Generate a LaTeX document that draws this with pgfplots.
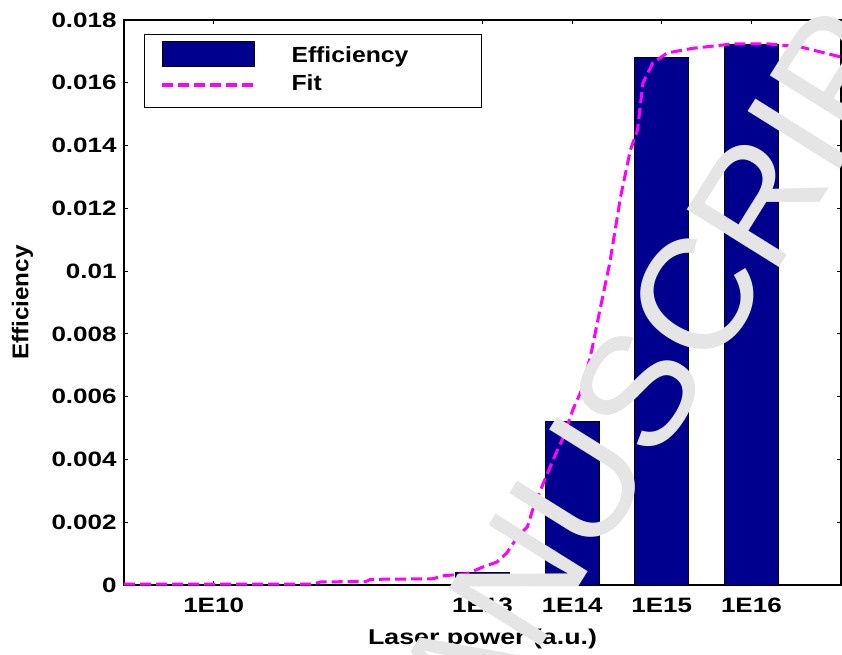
\documentclass[border=0pt]{standalone}
\usepackage{pgfplots}
\pgfplotsset{compat=1.18}
\usepackage{pgfplotstable}
\usepackage{fontspec}
\setmainfont{Liberation Sans}
\newfontfamily\tickfont{Liberation Sans}[FakeStretch=1.25]
\newfontfamily\legfont{Liberation Sans}[FakeStretch=1.13]
\newfontfamily\ylabfont{Liberation Sans}[FakeStretch=1.06]

\definecolor{barblue}{RGB}{0,0,143}
\definecolor{fitmag}{RGB}{255,0,255}
\definecolor{wmgray}{RGB}{229,229,229}

\pgfplotsset{
  barlegend/.style={legend image code/.code={%
    \path (0pt,0pt) -- (46pt,0pt);
    \draw[##1,overlay] (0pt,-4.6pt) rectangle (46pt,7.9pt);}},
  linelegend/.style={legend image code/.code={%
    \path (0pt,0pt) -- (46pt,0pt);
    \draw[##1,overlay] (0pt,-0.25pt) -- (46pt,-0.25pt);}},
}

% measured efficiency (x = log10 of laser power)
\pgfplotstableread{
x  y
10 0
13 0.0004
14 0.0052
15 0.0168
16 0.01723
}\efftable

% fitted curve
\pgfplotstableread{
x     y
9.00  0.00003
11.10 0.00003
11.20 0.00010
11.70 0.00011
11.75 0.00018
12.45 0.00020
12.55 0.00029
12.83 0.00036
13.00 0.00057
13.16 0.00073
13.27 0.00102
13.39 0.00153
13.50 0.00185
13.56 0.00240
13.68 0.00325
13.79 0.00400
13.90 0.00470
14.01 0.00560
14.12 0.00630
14.22 0.00750
14.31 0.00876
14.42 0.01026
14.54 0.01236
14.65 0.01386
14.73 0.01450
14.79 0.01600
14.90 0.01663
15.06 0.01695
15.35 0.01710
15.80 0.01724
16.18 0.01724
16.55 0.01714
17.00 0.01682
}\fittable

\begin{document}
\begin{tikzpicture}
\begin{axis}[
  name=ax,
  scale only axis,
  width=358.5pt, height=282.5pt,
  xmin=9, xmax=17, ymin=0, ymax=0.018,
  axis line style={black, line width=0.8pt},
  tick pos=both, tick align=inside,
  major tick length=2.2pt,
  tick style={black, line width=0.6pt},
  xtick={10,13,14,15,16},
  xticklabels={1E10,1E13,1E14,1E15,1E16},
  ytick={0,0.002,0.004,0.006,0.008,0.010,0.012,0.014,0.016,0.018},
  yticklabels={0,0.002,0.004,0.006,0.008,0.01,0.012,0.014,0.016,0.018},
  scaled y ticks=false,
  xticklabel style={font=\tickfont\bfseries\fontsize{10.4}{12}\selectfont,
    inner sep=0pt, anchor=north, yshift=-6.5pt},
  yticklabel style={font=\tickfont\bfseries\fontsize{10.4}{12}\selectfont,
    inner sep=0pt, anchor=east, xshift=-3.5pt},
  xlabel={Laser power (a.u.)},
  ylabel={Efficiency},
  xlabel style={font=\tickfont\bfseries\fontsize{10.7}{12}\selectfont,
    at={(axis description cs:0.5,0)}, anchor=center, yshift=-27pt, inner sep=0pt},
  ylabel style={font=\ylabfont\bfseries\fontsize{11.4}{13}\selectfont,
    at={(axis description cs:-0.14156,0.5)}, anchor=center, rotate=0, inner sep=0pt},
  legend style={at={(axis description cs:0.0279,0.9752)}, anchor=north west,
    draw=black, line width=0.5pt, fill=white,
    inner xsep=8pt, inner ysep=6pt, row sep=3.35pt, column sep=18pt,
    font=\legfont\bfseries\fontsize{10.95}{13}\selectfont,
    nodes={inner sep=0pt, text height=8pt, text depth=2.5pt}},
  legend cell align=left,
]
\addplot[ybar, bar width=0.6, bar shift=0pt, fill=barblue, draw=black, line width=0.4pt,
  barlegend]
  table[x=x, y=y] {\efftable};
\addlegendentry{\makebox[87pt][l]{Efficiency}}

\addplot[fitmag, line width=1.5pt, dash pattern=on 5.5pt off 2.5pt, linelegend]
  table[x=x, y=y] {\fittable};
\addlegendentry{\makebox[87pt][l]{Fit}}
\end{axis}

% manuscript watermark across the figure
\node[text=wmgray, font=\fontsize{79}{80}\selectfont, rotate=58, inner sep=0pt]
  at ([shift={(258pt,99pt)}]ax.south west) {MANUSCRIPT};

\pgfresetboundingbox
\path ([shift={(-62pt,-34.5pt)}]ax.south west) rectangle ([shift={(0.5pt,10pt)}]ax.north east);
\end{tikzpicture}
\end{document}
